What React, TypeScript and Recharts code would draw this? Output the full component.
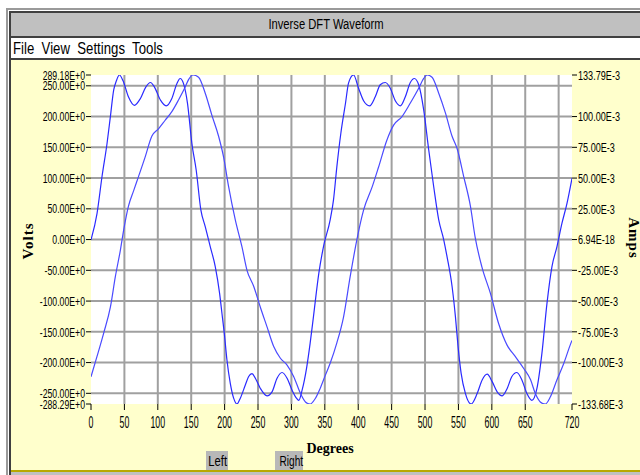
import { LineChart, Line, XAxis, YAxis, CartesianGrid, ReferenceLine } from 'recharts';

// axis extremes printed on the chart
const VOLT_MAX = 289.18;
const VOLT_MIN = -288.29;
const AMP_MAX = 133.79; // mA
const AMP_MIN = -133.68; // mA
// the grid is 50 V per 25 mA, so the volt labels sit on the amp grid lines
const VOLTS_PER_MA = 2;

// voltage trace (degrees, volts)
const voltDegrees = [
  0, 9, 16.5, 24, 29, 34, 38, 42.5, 48, 56, 65, 74, 82, 89, 95, 104, 112.5, 121, 128.5, 133.5,
  138.5, 144.5, 151, 157.5, 164.5, 171, 178.5, 186, 192.5, 196, 199.5, 203.5, 208.5, 213.5, 218.5, 223.5,
  231, 236, 241, 246, 253.5, 263.5, 271, 278.5, 286, 293.5, 301, 307.5, 311, 316, 323, 328,
  333, 341, 348, 358, 363, 368, 374, 381, 385.5, 393, 400.5, 408, 417, 425.5, 433, 440.5,
  448, 455.5, 463, 470.5, 478, 484, 490.5, 498, 505.5, 513, 520.5, 528, 533, 540.5, 545.5, 549.5,
  554, 560.5, 569, 578, 585.5, 593, 600.5, 608, 615.5, 623, 630, 637.5, 645, 652.5, 660, 667.5,
  675, 682.5, 690, 697.5, 705, 712.5, 720,
];
const volts = [
  0, 46, 111, 169, 216, 263, 279, 289.18, 279, 251, 236, 248, 268, 276, 268, 245, 235, 248, 274, 283,
  274, 239, 169, 122, 52, 23, -12, -47, -94, -129, -164, -211, -252, -278, -288.29, -278,
  -255, -240, -235, -243, -261, -274, -267, -243, -233, -243, -264, -278, -282, -264, -223, -182,
  -135, -59, -12, 35, 70, 128, 187, 240, 275, 289.18, 266, 244, 235, 251, 272, 276,
  266, 244, 235, 251, 276, 283, 272, 228, 158, 93, 35, 0, -30, -82, -135, -188,
  -234, -270, -288.29, -270, -246, -236, -249, -267, -274, -261, -240, -233, -246, -270, -282, -261,
  -199, -112, -47, -12, 29, 64, 108,
];

// current trace (degrees, milliamps)
const ampDegrees = [
  0, 9, 19, 29, 36.5, 44, 49, 56, 64, 71, 81, 91, 101, 111, 121, 131, 141, 146, 152.7, 161,
  171, 181, 191, 198.5, 206, 216, 226, 233.5, 243.5, 253.5, 263.5, 273.5, 283.5, 293.5, 303.5, 313.5,
  321, 328, 336, 343, 351, 358, 368, 378, 388, 398, 408, 421, 430.5, 443, 453, 465.5,
  478, 490.5, 498, 503, 510.5, 520.5, 530.5, 540.5, 548, 558, 568, 575, 585, 598, 610, 623,
  635, 648, 658, 665, 672.5, 680, 687.5, 697.5, 707.5, 718.5, 720,
];
const milliamps = [
  -111.5, -95, -76, -55, -30, -8.5, 8, 27, 40, 51, 67, 84, 90, 97, 104, 113.5, 124, 130, 133.79, 132,
  119, 101, 84, 67, 43, 16, -6, -25, -38, -55, -71, -87, -96.5, -102, -111.5, -125,
  -132, -133.68, -129, -121, -110, -100.6, -84, -63, -30, 0, 24, 43, 59, 81, 93, 100,
  111, 123, 131, 133.79, 132, 119, 103, 84, 74, 51, 27, 2, -22, -44, -68, -86,
  -95, -105, -114, -125, -132, -133.68, -128, -114, -101, -84, -82,
];

const xTicks = [0, 50, 100, 150, 200, 250, 300, 350, 400, 450, 500, 550, 600, 650, 720];
const xGrid = [50, 100, 150, 200, 250, 300, 350, 400, 450, 500, 550, 600, 650, 700];
const ampTicks = [AMP_MAX, 100, 75, 50, 25, 0, -25, -50, -75, -100, AMP_MIN];
const ampGrid = [125, 100, 75, 50, 25, 0, -25, -50, -75, -100, -125];
const voltTicks = [250, 200, 150, 100, 50, 0, -50, -100, -150, -200, -250];

const voltData = voltDegrees.map((d, i) => ({ deg: d, v: volts[i] }));
const ampData = ampDegrees.map((d, i) => ({ deg: d, a: milliamps[i] }));

const LABEL_TOP = AMP_MAX * VOLTS_PER_MA;
const LABEL_BOTTOM = AMP_MIN * VOLTS_PER_MA;

const SANS = "'Liberation Sans', Arial, sans-serif";
const SERIF = "'Liberation Serif', 'Times New Roman', serif";

const fmtVolt = (v: number) => {
  if (v === LABEL_TOP) return `${VOLT_MAX.toFixed(2)}E+0`;
  if (v === LABEL_BOTTOM) return `${VOLT_MIN.toFixed(2)}E+0`;
  return `${v.toFixed(2)}E+0`;
};
const fmtAmp = (v: number) => (v === 0 ? '6.94E-18' : `${v.toFixed(2)}E-3`);
const fmtDeg = (v: number) => String(v);

// the old UI font is very condensed, so squeeze Liberation Sans horizontally
function squeezedTick(fmt: (v: number) => string, size: number, sx: number, dy: string) {
  return (props: any) => {
    const { x, y, payload, textAnchor } = props;
    return (
      <text transform={`translate(${x},${y}) scale(${sx},1)`} textAnchor={textAnchor} dy={dy}
        fontSize={size} fontFamily={SANS} fill="#000">
        {fmt(payload.value)}
      </text>
    );
  };
}

const bar = (left: number, top: number, width: number, height: number, bg: string) => (
  <div style={{ position: 'absolute', left, top, width, height, background: bg }} />
);

const squeeze = (sx: number, origin = 'left'): React.CSSProperties => ({
  display: 'inline-block', transform: `scaleX(${sx})`, transformOrigin: origin, whiteSpace: 'pre',
});

export default function App() {
  return (
    <div style={{ position: 'absolute', left: 0, top: 0, width: 640, height: 475, background: '#fff', overflow: 'hidden' }}>
      {bar(6, 8, 2, 467, '#9a9a9a')}
      {bar(6, 8, 634, 2, '#9a9a9a')}
      {bar(9, 11, 2, 464, '#404040')}
      {bar(9, 11, 631, 2, '#404040')}
      <div style={{ position: 'absolute', left: 11, top: 13, width: 629, height: 23, background: '#c0c0c0',
        textAlign: 'center', lineHeight: '23px', fontFamily: SANS, fontSize: 14, color: '#000' }}>
        <span style={squeeze(0.8, 'center')}>Inverse DFT Waveform</span>
      </div>
      {bar(11, 36, 629, 2, '#404040')}
      <div style={{ position: 'absolute', left: 13, top: 38, width: 627, height: 20, background: '#fff',
        lineHeight: '21px', fontFamily: SANS, fontSize: 16.5, color: '#000' }}>
        <span style={squeeze(0.8)}>{'File  View  Settings  Tools'}</span>
      </div>
      {bar(11, 38, 2, 20, '#fff')}
      {bar(11, 58, 629, 2, '#404040')}
      {bar(11, 60, 629, 410, '#ffffcc')}
      {bar(11, 470, 629, 2, '#b8a800')}
      {bar(11, 472, 629, 3, '#c0c0c0')}

      <div style={{ position: 'absolute', left: 0, top: 0 }}>
        <LineChart width={640} height={475} margin={{ top: 75, right: 0, bottom: 41, left: 11 }}>
          <CartesianGrid fill="#fff" horizontal={false} vertical={false} yAxisId="amps" />
          <XAxis dataKey="deg" type="number" domain={[0, 720]} ticks={xTicks} interval={0}
            axisLine={false} tickLine={{ stroke: '#000' }} tickSize={6} tickMargin={2}
            height={30} tick={squeezedTick(fmtDeg, 16, 0.55, '1em')} allowDataOverflow />
          <YAxis yAxisId="volts" hide type="number" domain={[VOLT_MIN, VOLT_MAX]} allowDataOverflow />
          <YAxis yAxisId="voltLabels" orientation="left" type="number" width={80}
            domain={[LABEL_BOTTOM, LABEL_TOP]} ticks={[LABEL_TOP, ...voltTicks, LABEL_BOTTOM]} interval={0}
            axisLine={false} tickLine={{ stroke: '#000' }} tickSize={5} tickMargin={1}
            tick={squeezedTick(fmtVolt, 13, 0.67, '0.36em')} allowDataOverflow />
          <YAxis yAxisId="amps" orientation="right" type="number" width={68}
            domain={[AMP_MIN, AMP_MAX]} ticks={ampTicks} interval={0}
            axisLine={false} tickLine={{ stroke: '#000' }} tickSize={5} tickMargin={1}
            tick={squeezedTick(fmtAmp, 13, 0.7, '0.36em')} allowDataOverflow />
          {ampGrid.map((v) => (
            <ReferenceLine key={`h${v}`} yAxisId="amps" y={v} stroke="#a0a0a0" strokeWidth={2} />
          ))}
          {xGrid.map((d) => (
            <ReferenceLine key={`v${d}`} yAxisId="amps" x={d} stroke="#a0a0a0" strokeWidth={2} />
          ))}
          <Line data={voltData} yAxisId="volts" dataKey="v" type="monotone" stroke="#2a2aff"
            strokeWidth={1.2} dot={false} isAnimationActive={false} />
          <Line data={ampData} yAxisId="amps" dataKey="a" type="monotone" stroke="#4a4aff"
            strokeWidth={1.2} dot={false} isAnimationActive={false} />
        </LineChart>
      </div>

      <div style={{ position: 'absolute', left: 28, top: 241, transform: 'translate(-50%, -50%) rotate(-90deg)',
        fontFamily: SERIF, fontWeight: 'bold', fontSize: 15, letterSpacing: 1, whiteSpace: 'nowrap' }}>
        Volts
      </div>
      <div style={{ position: 'absolute', left: 633, top: 238, transform: 'translate(-50%, -50%) rotate(90deg)',
        fontFamily: SERIF, fontWeight: 'bold', fontSize: 15, letterSpacing: 1, whiteSpace: 'nowrap' }}>
        Amps
      </div>
      <div style={{ position: 'absolute', left: 330, top: 449, transform: 'translate(-50%, -50%)',
        fontFamily: SERIF, fontWeight: 'bold', fontSize: 14, whiteSpace: 'nowrap' }}>
        Degrees
      </div>
      <div style={{ position: 'absolute', left: 206, top: 451, width: 22, height: 19, background: '#b8b8b8',
        fontFamily: SANS, fontSize: 14, lineHeight: '21px', textAlign: 'center' }}>
        <span style={squeeze(0.8, 'center')}>Left</span>
      </div>
      <div style={{ position: 'absolute', left: 275, top: 451, width: 28, height: 19, background: '#b8b8b8',
        fontFamily: SANS, fontSize: 14, lineHeight: '21px', textAlign: 'center' }}>
        <span style={squeeze(0.72, 'center')}>Right</span>
      </div>
    </div>
  );
}
